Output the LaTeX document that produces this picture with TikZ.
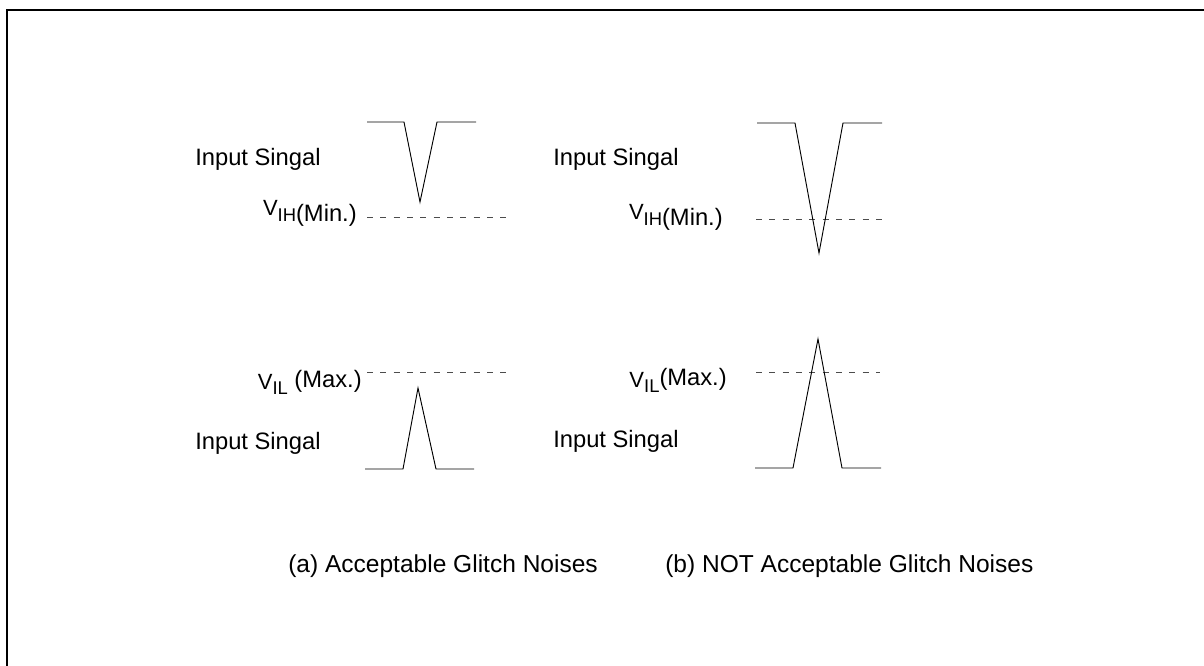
\documentclass[tikz,border=0pt]{standalone}
\usepackage{fontspec}
\setmainfont{Liberation Sans}
\usetikzlibrary{positioning,calc}

\tikzset{
  sig/.style={line width=0.7pt},
  lvl/.style={dash pattern=on 4.5pt off 5.5pt, draw=black!70, line width=0.7pt},
  lbl/.style={inner sep=0pt, font=\fontsize{17.8}{21}\selectfont},
  captxt/.style={inner sep=0pt, font=\fontsize{18.4}{22}\selectfont},
}
% V with its subscript, V sits a bit higher
\newcommand{\Vlvl}[2]{\raisebox{#2}{\fontsize{16.5}{18}\selectfont V}{\fontsize{13.8}{15}\selectfont #1}}

\begin{document}
\begin{tikzpicture}[x=0.75pt,y=-0.75pt]
  \useasboundingbox (0,0) rectangle (1204,666);

  % Frame
  \draw[line width=1.5pt] (7,666) -- (7,10) -- (1204,10);

  % Input signal labels
  \foreach \x/\y/\n in {195/166/inAH, 553/166/inBH, 195/450/inAL, 553/448/inBL}
    \node[lbl, anchor=base west] (\n) at (\x,\y) {Input Singal};

  % Threshold labels
  \node[lbl, anchor=base east] (vihA) at (357,222) {\Vlvl{IH}{5pt}(Min.)};
  \node[lbl, anchor=base east] (vihB) at (723,226) {\Vlvl{IH}{5pt}(Min.)};
  \node[lbl, anchor=base east] (vilA) at (362,395) {\Vlvl{IL}{3.75pt} \raisebox{5.25pt}{(Max.)}};
  \node[lbl, anchor=base east] (vilB) at (727,393) {\Vlvl{IL}{3.75pt}\raisebox{5.25pt}{(Max.)}};

  % Threshold levels
  \draw[lvl] (367,217) -- (512,217);
  \draw[lvl] (756,219) -- (882,219);
  \draw[lvl] (367,372) -- (512,372);
  \draw[lvl] (756,372) -- (880,372);

  % Glitches, high side
  \draw[sig] (367,122) -- (404,122) -- (420,202) -- (437,122) -- (476,122);
  \draw[sig] (757,123) -- (795,123) -- (819,253) -- (843,123) -- (882,123);

  % Glitches, low side
  \draw[sig] (365,469) -- (403,469) -- (418,388) -- (436,469) -- (474,469);
  \draw[sig] (755,468) -- (793,468) -- (818,339) -- (842,468) -- (881,468);

  % Captions
  \node[captxt, anchor=base west] (capA) at (288,573) {(a) Acceptable Glitch Noises};
  \node[captxt, anchor=base west] (capB) at (665,573) {(b) NOT Acceptable Glitch Noises};
\end{tikzpicture}
\end{document}
